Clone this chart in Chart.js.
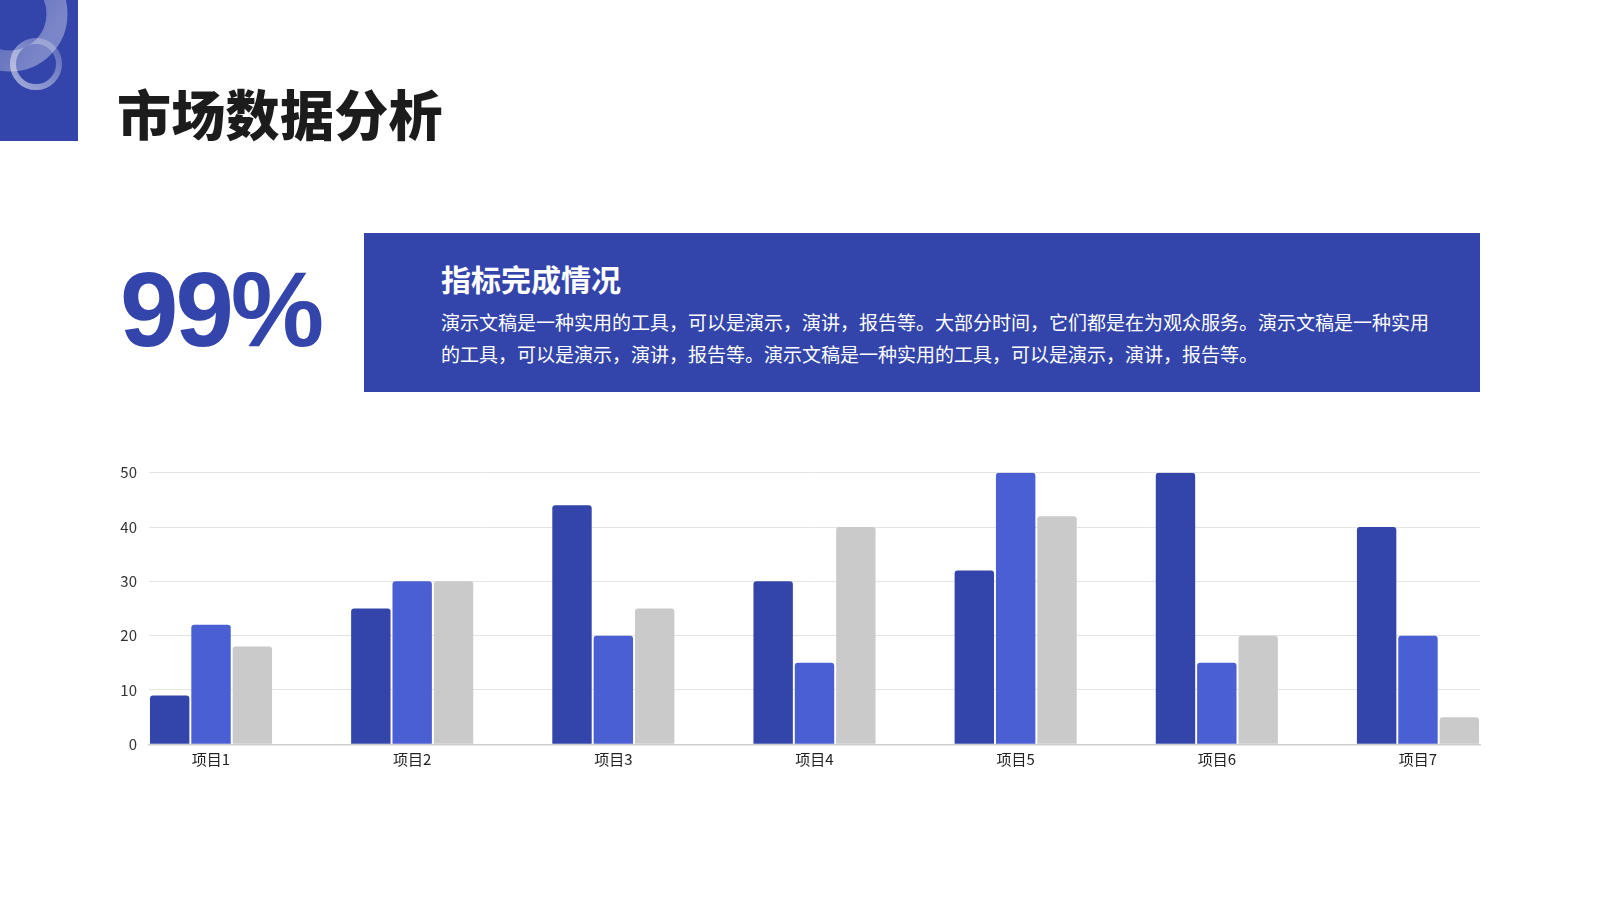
<!DOCTYPE html>
<html>
<head>
<meta charset="utf-8">
<script src="https://cdn.jsdelivr.net/npm/chart.js@4/dist/chart.umd.min.js"></script>
<style>
  html,body{margin:0;padding:0;background:#fff;}
  body{width:1600px;height:900px;position:relative;overflow:hidden;font-family:"Noto Sans CJK SC","Noto Sans",sans-serif;}
  .deco{position:absolute;left:0;top:0;width:78px;height:141px;}
  .title{position:absolute;left:117px;top:86px;font-size:54px;line-height:1;font-weight:900;color:#1c1c1c;letter-spacing:0.3px;white-space:nowrap;}
  .big{position:absolute;left:120px;top:247px;font-family:"Liberation Sans",Arial,sans-serif;font-weight:bold;font-size:105px;line-height:1.2;color:#3345AA;letter-spacing:-3px;white-space:nowrap;}
  .box{position:absolute;left:364px;top:233px;width:1116px;height:159px;background:#3345AA;}
  .box h2{position:absolute;left:77px;top:30px;margin:0;font-size:30px;line-height:1;font-weight:700;color:#fff;white-space:nowrap;}
  .box p{position:absolute;left:77px;top:73px;margin:0;font-size:19px;line-height:32px;color:#fff;white-space:nowrap;}
  #wrap{position:absolute;left:0;top:430px;width:1600px;height:360px;}
</style>
</head>
<body>
<svg class="deco" viewBox="0 0 78 141" width="78" height="141">
  <defs>
    <linearGradient id="g1" x1="0" y1="0" x2="1" y2="0.6">
      <stop offset="0" stop-color="#ffffff" stop-opacity="0.05"/>
      <stop offset="1" stop-color="#ffffff" stop-opacity="0.35"/>
    </linearGradient>
    <linearGradient id="g2" x1="0" y1="1" x2="1" y2="0">
      <stop offset="0" stop-color="#ffffff" stop-opacity="0.55"/>
      <stop offset="1" stop-color="#ffffff" stop-opacity="0.2"/>
    </linearGradient>
  </defs>
  <rect x="0" y="0" width="78" height="141" fill="#3345AA"/>
  <circle cx="10" cy="14" r="47" fill="none" stroke="url(#g1)" stroke-width="21"/>
  <circle cx="36" cy="64" r="23" fill="none" stroke="url(#g2)" stroke-width="6"/>
</svg>
<div class="title">市场数据分析</div>
<div class="big">99%</div>
<div class="box">
  <h2>指标完成情况</h2>
  <p>演示文稿是一种实用的工具，可以是演示，演讲，报告等。大部分时间，它们都是在为观众服务。演示文稿是一种实用<br>的工具，可以是演示，演讲，报告等。演示文稿是一种实用的工具，可以是演示，演讲，报告等。</p>
</div>
<div id="wrap"><canvas id="c" width="1600" height="360"></canvas></div>
<script>
const categories = ["项目1","项目2","项目3","项目4","项目5","项目6","项目7"];
const series1 = [9, 25, 44, 30, 32, 50, 40];
const series2 = [22, 30, 20, 15, 50, 15, 20];
const series3 = [18, 30, 25, 40, 42, 20, 5];
const yTicks = [0, 10, 20, 30, 40, 50];
const colors = ["#3345AA", "#4A5FD3", "#CACACA"];

const catPct = 0.6166;
const toPoints = arr => arr.map((v, i) => ({x: i, y: v}));
const mkSet = (arr, col) => ({
  data: toPoints(arr),
  backgroundColor: col,
  borderRadius: 3,
  borderSkipped: 'start',
  categoryPercentage: catPct,
  barPercentage: 0.953
});

new Chart(document.getElementById('c'), {
  type: 'bar',
  data: {
    datasets: [mkSet(series1, colors[0]), mkSet(series2, colors[1]), mkSet(series3, colors[2])]
  },
  options: {
    responsive: false,
    animation: false,
    devicePixelRatio: 1,
    layout: {padding: {top: 42.7, right: 120, bottom: 0, left: 0}},
    plugins: {legend: {display: false}, tooltip: {enabled: false}},
    scales: {
      x: {
        type: 'linear',
        offset: false,
        min: -catPct / 2,
        max: categories.length - 1 + catPct / 2,
        afterBuildTicks: axis => { axis.ticks = categories.map((_, i) => ({value: i})); },
        afterFit: axis => { axis.height = 45.7; },
        grid: {display: false, drawTicks: false, offset: false},
        border: {display: true, color: '#D0D0D0', width: 1.5},
        ticks: {
          padding: 6,
          autoSkip: false,
          maxRotation: 0,
          color: '#222',
          font: {family: '"Noto Sans CJK SC"', size: 15},
          callback: v => categories[Math.round(v)] ?? ''
        }
      },
      y: {
        min: 0,
        max: 50,
        afterBuildTicks: axis => { axis.ticks = yTicks.map(v => ({value: v})); },
        afterFit: axis => { axis.width = 149; },
        grid: {color: '#E4E4E4', lineWidth: 1, drawTicks: false},
        border: {display: false},
        ticks: {
          padding: 12,
          color: '#333',
          font: {family: '"Noto Sans CJK SC"', size: 15}
        }
      }
    }
  }
});
</script>
</body>
</html>
